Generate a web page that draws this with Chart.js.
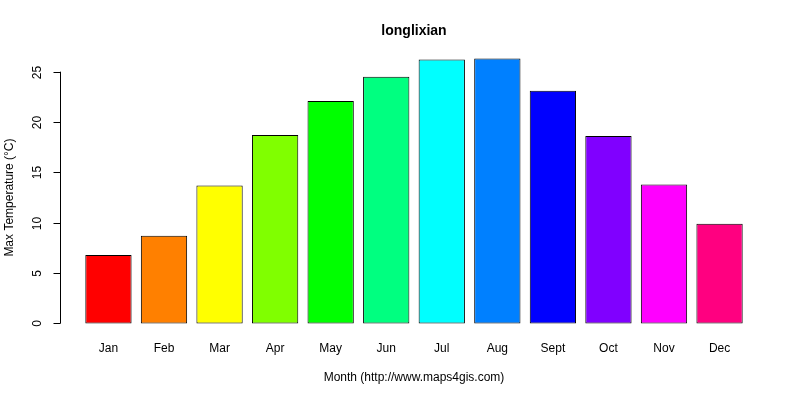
<!DOCTYPE html><html><head><script src="https://cdn.jsdelivr.net/npm/chart.js@4"></script>
<style>body{margin:0;background:#fff}#w{width:800px;height:400px}</style></head><body><div id="w"><canvas id="c"></canvas></div><script>
const months=["Jan","Feb","Mar","Apr","May","Jun","Jul","Aug","Sept","Oct","Nov","Dec"];
const values=[6.8,8.7,13.7,18.7,22.1,24.5,26.2,26.3,23.1,18.6,13.8,9.9];
const colors=["#FF0000","#FF8000","#FFFF00","#80FF00","#00FF00","#00FF80","#00FFFF","#0080FF","#0000FF","#8000FF","#FF00FF","#FF0080"];
const yTicks=[0,5,10,15,20,25];
const centers=months.map((m,i)=>0.7+1.2*i);
const F="Liberation Sans, Arial, sans-serif";
const deco={id:'deco',afterDraw(ch){const c=ch.ctx,x=ch.scales.x,y=ch.scales.y,a=ch.chartArea;c.save();c.fillStyle='#000';c.strokeStyle='#000';c.lineWidth=1;
c.font='bold 14px '+F;c.textAlign='center';c.textBaseline='middle';c.fillText('longlixian',(a.left+a.right)/2,31);
c.font='12px '+F;months.forEach((m,i)=>c.fillText(m,x.getPixelForValue(centers[i]),349));
c.fillText('Month (http://www.maps4gis.com)',(a.left+a.right)/2,378);
const ax=60.5;c.beginPath();c.moveTo(ax,y.getPixelForValue(0));c.lineTo(ax,y.getPixelForValue(25));c.stroke();
yTicks.forEach(t=>{const py=Math.round(y.getPixelForValue(t))+0.5;c.beginPath();c.moveTo(ax,py);c.lineTo(ax-7,py);c.stroke();c.save();c.translate(38,py);c.rotate(-Math.PI/2);c.fillText(String(t),0,0);c.restore();});
c.save();c.translate(10,(y.getPixelForValue(0)+y.getPixelForValue(25))/2);c.rotate(-Math.PI/2);c.fillText('Max Temperature (°C)',0,0);c.restore();
c.restore();}};
new Chart(document.getElementById('c'),{type:'bar',data:{datasets:[{data:values.map((v,i)=>({x:centers[i],y:v})),backgroundColor:colors,borderColor:'#000',borderWidth:1,borderSkipped:false,barPercentage:1,categoryPercentage:0.8333}]},
options:{responsive:true,maintainAspectRatio:false,animation:false,layout:{padding:{left:59,right:31,top:48,bottom:66}},
plugins:{legend:{display:false},tooltip:{enabled:false}},
scales:{x:{type:'linear',display:false,offset:false,min:-0.368,max:14.968},y:{display:false,min:-1.052,max:27.352}}},plugins:[deco]});
</script></body></html>
